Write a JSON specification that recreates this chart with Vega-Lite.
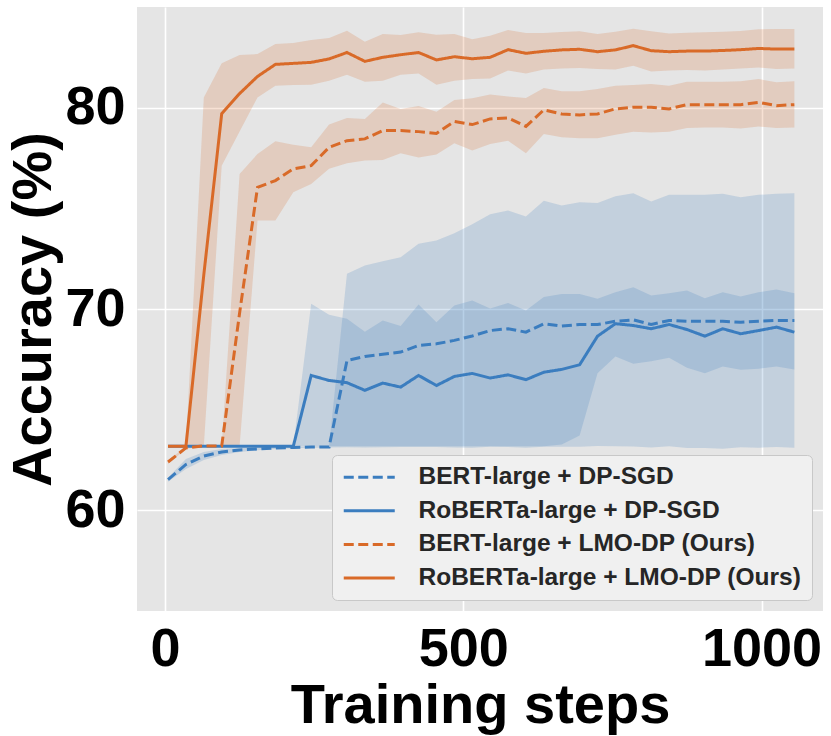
{
  "$schema": "https://vega.github.io/schema/vega-lite/v6.json",
  "autosize": "none",
  "padding": {"left": 137, "top": 7, "right": 8, "bottom": 125},
  "width": 686,
  "height": 604,
  "background": "white",
  "config": {
    "font": "Liberation Sans",
    "view": {"fill": "#e5e5e5", "stroke": null},
    "axis": {
      "domain": false, "ticks": false, "grid": true, "gridColor": "#ffffff", "gridWidth": 1.6,
      "labelFont": "Liberation Sans", "labelFontSize": 54, "labelFontWeight": "bold", "labelColor": "#000000",
      "titleFont": "Liberation Sans", "titleFontSize": 56, "titleFontWeight": "bold", "titleColor": "#000000"
    },
    "legend": {
      "symbolType": "M-2.55,0H2.55", "symbolSize": 400, "symbolStrokeWidth": 3, "symbolOffset": 15,
      "labelFont": "Liberation Sans", "labelFontSize": 24.5, "labelFontWeight": "bold", "labelColor": "#262626",
      "fillColor": "#f0f0f0", "strokeColor": "#c8c8c8", "cornerRadius": 5,
      "padding": 10, "rowPadding": 8.6, "labelOffset": 37, "labelLimit": 500
    }
  },
  "data": {"values": [
    {"step": 5, "series": "BERT-large + DP-SGD", "mean": 61.52, "lo": 61.42, "hi": 61.62},
    {"step": 35, "series": "BERT-large + DP-SGD", "mean": 62.28, "lo": 62.05, "hi": 62.55},
    {"step": 65, "series": "BERT-large + DP-SGD", "mean": 62.7, "lo": 62.5, "hi": 62.9},
    {"step": 95, "series": "BERT-large + DP-SGD", "mean": 62.9, "lo": 62.75, "hi": 63.05},
    {"step": 125, "series": "BERT-large + DP-SGD", "mean": 63.0, "lo": 62.9, "hi": 63.1},
    {"step": 155, "series": "BERT-large + DP-SGD", "mean": 63.05, "lo": 62.98, "hi": 63.12},
    {"step": 185, "series": "BERT-large + DP-SGD", "mean": 63.1, "lo": 63.05, "hi": 63.15},
    {"step": 215, "series": "BERT-large + DP-SGD", "mean": 63.12, "lo": 63.08, "hi": 63.16},
    {"step": 245, "series": "BERT-large + DP-SGD", "mean": 63.14, "lo": 63.11, "hi": 63.17},
    {"step": 275, "series": "BERT-large + DP-SGD", "mean": 63.15, "lo": 63.12, "hi": 63.18},
    {"step": 305, "series": "BERT-large + DP-SGD", "mean": 67.44, "lo": 63.13, "hi": 71.75},
    {"step": 335, "series": "BERT-large + DP-SGD", "mean": 67.64, "lo": 63.12, "hi": 72.16},
    {"step": 365, "series": "BERT-large + DP-SGD", "mean": 67.75, "lo": 63.13, "hi": 72.37},
    {"step": 395, "series": "BERT-large + DP-SGD", "mean": 67.86, "lo": 63.15, "hi": 72.57},
    {"step": 425, "series": "BERT-large + DP-SGD", "mean": 68.19, "lo": 63.14, "hi": 73.24},
    {"step": 455, "series": "BERT-large + DP-SGD", "mean": 68.27, "lo": 63.14, "hi": 73.4},
    {"step": 485, "series": "BERT-large + DP-SGD", "mean": 68.44, "lo": 63.12, "hi": 73.76},
    {"step": 515, "series": "BERT-large + DP-SGD", "mean": 68.66, "lo": 63.11, "hi": 74.21},
    {"step": 545, "series": "BERT-large + DP-SGD", "mean": 68.93, "lo": 63.16, "hi": 74.7},
    {"step": 575, "series": "BERT-large + DP-SGD", "mean": 69.02, "lo": 63.15, "hi": 74.89},
    {"step": 605, "series": "BERT-large + DP-SGD", "mean": 68.85, "lo": 63.11, "hi": 74.59},
    {"step": 635, "series": "BERT-large + DP-SGD", "mean": 69.27, "lo": 63.16, "hi": 75.38},
    {"step": 665, "series": "BERT-large + DP-SGD", "mean": 69.15, "lo": 63.16, "hi": 75.14},
    {"step": 695, "series": "BERT-large + DP-SGD", "mean": 69.23, "lo": 63.16, "hi": 75.3},
    {"step": 725, "series": "BERT-large + DP-SGD", "mean": 69.23, "lo": 63.19, "hi": 75.27},
    {"step": 755, "series": "BERT-large + DP-SGD", "mean": 69.39, "lo": 63.18, "hi": 75.6},
    {"step": 785, "series": "BERT-large + DP-SGD", "mean": 69.46, "lo": 63.17, "hi": 75.75},
    {"step": 815, "series": "BERT-large + DP-SGD", "mean": 69.23, "lo": 63.12, "hi": 75.34},
    {"step": 845, "series": "BERT-large + DP-SGD", "mean": 69.43, "lo": 63.18, "hi": 75.68},
    {"step": 875, "series": "BERT-large + DP-SGD", "mean": 69.39, "lo": 63.1, "hi": 75.68},
    {"step": 905, "series": "BERT-large + DP-SGD", "mean": 69.39, "lo": 63.1, "hi": 75.67},
    {"step": 935, "series": "BERT-large + DP-SGD", "mean": 69.39, "lo": 63.06, "hi": 75.72},
    {"step": 965, "series": "BERT-large + DP-SGD", "mean": 69.34, "lo": 63.13, "hi": 75.55},
    {"step": 995, "series": "BERT-large + DP-SGD", "mean": 69.39, "lo": 63.11, "hi": 75.67},
    {"step": 1025, "series": "BERT-large + DP-SGD", "mean": 69.43, "lo": 63.14, "hi": 75.72},
    {"step": 1055, "series": "BERT-large + DP-SGD", "mean": 69.43, "lo": 63.11, "hi": 75.75},

    {"step": 5, "series": "RoBERTa-large + DP-SGD", "mean": 63.18, "lo": 63.18, "hi": 63.18},
    {"step": 35, "series": "RoBERTa-large + DP-SGD", "mean": 63.18, "lo": 63.18, "hi": 63.18},
    {"step": 65, "series": "RoBERTa-large + DP-SGD", "mean": 63.18, "lo": 63.18, "hi": 63.18},
    {"step": 95, "series": "RoBERTa-large + DP-SGD", "mean": 63.18, "lo": 63.18, "hi": 63.18},
    {"step": 125, "series": "RoBERTa-large + DP-SGD", "mean": 63.18, "lo": 63.18, "hi": 63.18},
    {"step": 155, "series": "RoBERTa-large + DP-SGD", "mean": 63.18, "lo": 63.18, "hi": 63.18},
    {"step": 185, "series": "RoBERTa-large + DP-SGD", "mean": 63.18, "lo": 63.18, "hi": 63.18},
    {"step": 215, "series": "RoBERTa-large + DP-SGD", "mean": 63.18, "lo": 63.18, "hi": 63.18},
    {"step": 245, "series": "RoBERTa-large + DP-SGD", "mean": 66.7, "lo": 63.18, "hi": 70.26},
    {"step": 275, "series": "RoBERTa-large + DP-SGD", "mean": 66.45, "lo": 63.18, "hi": 69.72},
    {"step": 305, "series": "RoBERTa-large + DP-SGD", "mean": 66.34, "lo": 63.18, "hi": 69.51},
    {"step": 335, "series": "RoBERTa-large + DP-SGD", "mean": 65.96, "lo": 63.18, "hi": 68.87},
    {"step": 365, "series": "RoBERTa-large + DP-SGD", "mean": 66.32, "lo": 63.18, "hi": 69.43},
    {"step": 395, "series": "RoBERTa-large + DP-SGD", "mean": 66.12, "lo": 63.18, "hi": 69.15},
    {"step": 425, "series": "RoBERTa-large + DP-SGD", "mean": 66.7, "lo": 63.18, "hi": 70.22},
    {"step": 455, "series": "RoBERTa-large + DP-SGD", "mean": 66.2, "lo": 63.18, "hi": 69.34},
    {"step": 485, "series": "RoBERTa-large + DP-SGD", "mean": 66.65, "lo": 63.18, "hi": 70.17},
    {"step": 515, "series": "RoBERTa-large + DP-SGD", "mean": 66.8, "lo": 63.18, "hi": 70.42},
    {"step": 545, "series": "RoBERTa-large + DP-SGD", "mean": 66.57, "lo": 63.18, "hi": 70.02},
    {"step": 575, "series": "RoBERTa-large + DP-SGD", "mean": 66.73, "lo": 63.18, "hi": 70.3},
    {"step": 605, "series": "RoBERTa-large + DP-SGD", "mean": 66.49, "lo": 63.18, "hi": 69.93},
    {"step": 635, "series": "RoBERTa-large + DP-SGD", "mean": 66.86, "lo": 63.18, "hi": 70.59},
    {"step": 665, "series": "RoBERTa-large + DP-SGD", "mean": 67.0, "lo": 63.27, "hi": 70.75},
    {"step": 695, "series": "RoBERTa-large + DP-SGD", "mean": 67.23, "lo": 63.72, "hi": 70.75},
    {"step": 725, "series": "RoBERTa-large + DP-SGD", "mean": 68.65, "lo": 66.81, "hi": 70.51},
    {"step": 755, "series": "RoBERTa-large + DP-SGD", "mean": 69.27, "lo": 67.64, "hi": 70.83},
    {"step": 785, "series": "RoBERTa-large + DP-SGD", "mean": 69.18, "lo": 67.28, "hi": 71.08},
    {"step": 815, "series": "RoBERTa-large + DP-SGD", "mean": 69.02, "lo": 67.41, "hi": 70.67},
    {"step": 845, "series": "RoBERTa-large + DP-SGD", "mean": 69.23, "lo": 67.58, "hi": 70.78},
    {"step": 875, "series": "RoBERTa-large + DP-SGD", "mean": 68.98, "lo": 67.08, "hi": 70.92},
    {"step": 905, "series": "RoBERTa-large + DP-SGD", "mean": 68.65, "lo": 66.81, "hi": 70.54},
    {"step": 935, "series": "RoBERTa-large + DP-SGD", "mean": 69.02, "lo": 67.15, "hi": 70.83},
    {"step": 965, "series": "RoBERTa-large + DP-SGD", "mean": 68.77, "lo": 66.98, "hi": 70.62},
    {"step": 995, "series": "RoBERTa-large + DP-SGD", "mean": 68.93, "lo": 67.03, "hi": 70.83},
    {"step": 1025, "series": "RoBERTa-large + DP-SGD", "mean": 69.1, "lo": 67.15, "hi": 70.97},
    {"step": 1055, "series": "RoBERTa-large + DP-SGD", "mean": 68.85, "lo": 67.0, "hi": 70.78},

    {"step": 5, "series": "BERT-large + LMO-DP (Ours)", "mean": 62.4, "lo": 62.3, "hi": 62.5},
    {"step": 35, "series": "BERT-large + LMO-DP (Ours)", "mean": 63.1, "lo": 63.05, "hi": 63.15},
    {"step": 65, "series": "BERT-large + LMO-DP (Ours)", "mean": 63.2, "lo": 63.2, "hi": 63.2},
    {"step": 95, "series": "BERT-large + LMO-DP (Ours)", "mean": 63.2, "lo": 63.2, "hi": 63.2},
    {"step": 125, "series": "BERT-large + LMO-DP (Ours)", "mean": 69.8, "lo": 63.2, "hi": 76.71},
    {"step": 155, "series": "BERT-large + LMO-DP (Ours)", "mean": 76.04, "lo": 74.39, "hi": 77.7},
    {"step": 185, "series": "BERT-large + LMO-DP (Ours)", "mean": 76.38, "lo": 74.39, "hi": 78.33},
    {"step": 215, "series": "BERT-large + LMO-DP (Ours)", "mean": 76.96, "lo": 75.8, "hi": 78.16},
    {"step": 245, "series": "BERT-large + LMO-DP (Ours)", "mean": 77.12, "lo": 76.21, "hi": 78.03},
    {"step": 275, "series": "BERT-large + LMO-DP (Ours)", "mean": 78.03, "lo": 76.96, "hi": 79.16},
    {"step": 305, "series": "BERT-large + LMO-DP (Ours)", "mean": 78.36, "lo": 77.24, "hi": 79.49},
    {"step": 335, "series": "BERT-large + LMO-DP (Ours)", "mean": 78.45, "lo": 77.37, "hi": 79.44},
    {"step": 365, "series": "BERT-large + LMO-DP (Ours)", "mean": 78.86, "lo": 77.4, "hi": 80.26},
    {"step": 395, "series": "BERT-large + LMO-DP (Ours)", "mean": 78.86, "lo": 77.73, "hi": 79.93},
    {"step": 425, "series": "BERT-large + LMO-DP (Ours)", "mean": 78.81, "lo": 77.53, "hi": 80.08},
    {"step": 455, "series": "BERT-large + LMO-DP (Ours)", "mean": 78.72, "lo": 77.67, "hi": 79.8},
    {"step": 485, "series": "BERT-large + LMO-DP (Ours)", "mean": 79.32, "lo": 78.23, "hi": 80.38},
    {"step": 515, "series": "BERT-large + LMO-DP (Ours)", "mean": 79.16, "lo": 77.87, "hi": 80.47},
    {"step": 545, "series": "BERT-large + LMO-DP (Ours)", "mean": 79.44, "lo": 78.2, "hi": 80.65},
    {"step": 575, "series": "BERT-large + LMO-DP (Ours)", "mean": 79.49, "lo": 78.36, "hi": 80.56},
    {"step": 605, "series": "BERT-large + LMO-DP (Ours)", "mean": 79.07, "lo": 77.73, "hi": 80.48},
    {"step": 635, "series": "BERT-large + LMO-DP (Ours)", "mean": 79.89, "lo": 78.69, "hi": 80.98},
    {"step": 665, "series": "BERT-large + LMO-DP (Ours)", "mean": 79.69, "lo": 78.53, "hi": 80.81},
    {"step": 695, "series": "BERT-large + LMO-DP (Ours)", "mean": 79.64, "lo": 78.48, "hi": 80.81},
    {"step": 725, "series": "BERT-large + LMO-DP (Ours)", "mean": 79.69, "lo": 78.48, "hi": 80.93},
    {"step": 755, "series": "BERT-large + LMO-DP (Ours)", "mean": 79.94, "lo": 78.65, "hi": 81.09},
    {"step": 785, "series": "BERT-large + LMO-DP (Ours)", "mean": 80.02, "lo": 78.81, "hi": 81.13},
    {"step": 815, "series": "BERT-large + LMO-DP (Ours)", "mean": 80.02, "lo": 78.77, "hi": 81.18},
    {"step": 845, "series": "BERT-large + LMO-DP (Ours)", "mean": 79.94, "lo": 78.81, "hi": 81.09},
    {"step": 875, "series": "BERT-large + LMO-DP (Ours)", "mean": 80.15, "lo": 78.99, "hi": 81.29},
    {"step": 905, "series": "BERT-large + LMO-DP (Ours)", "mean": 80.15, "lo": 79.02, "hi": 81.29},
    {"step": 935, "series": "BERT-large + LMO-DP (Ours)", "mean": 80.15, "lo": 79.02, "hi": 81.29},
    {"step": 965, "series": "BERT-large + LMO-DP (Ours)", "mean": 80.15, "lo": 78.97, "hi": 81.31},
    {"step": 995, "series": "BERT-large + LMO-DP (Ours)", "mean": 80.26, "lo": 79.06, "hi": 81.42},
    {"step": 1025, "series": "BERT-large + LMO-DP (Ours)", "mean": 80.1, "lo": 78.99, "hi": 81.26},
    {"step": 1055, "series": "BERT-large + LMO-DP (Ours)", "mean": 80.15, "lo": 79.02, "hi": 81.31},

    {"step": 5, "series": "RoBERTa-large + LMO-DP (Ours)", "mean": 63.18, "lo": 63.18, "hi": 63.18},
    {"step": 35, "series": "RoBERTa-large + LMO-DP (Ours)", "mean": 63.18, "lo": 63.18, "hi": 63.18},
    {"step": 65, "series": "RoBERTa-large + LMO-DP (Ours)", "mean": 71.7, "lo": 63.18, "hi": 80.5},
    {"step": 95, "series": "RoBERTa-large + LMO-DP (Ours)", "mean": 79.7, "lo": 77.12, "hi": 82.2},
    {"step": 125, "series": "RoBERTa-large + LMO-DP (Ours)", "mean": 80.7, "lo": 78.82, "hi": 82.61},
    {"step": 155, "series": "RoBERTa-large + LMO-DP (Ours)", "mean": 81.55, "lo": 80.51, "hi": 82.66},
    {"step": 185, "series": "RoBERTa-large + LMO-DP (Ours)", "mean": 82.15, "lo": 81.09, "hi": 83.16},
    {"step": 215, "series": "RoBERTa-large + LMO-DP (Ours)", "mean": 82.2, "lo": 81.13, "hi": 83.21},
    {"step": 245, "series": "RoBERTa-large + LMO-DP (Ours)", "mean": 82.25, "lo": 81.14, "hi": 83.36},
    {"step": 275, "series": "RoBERTa-large + LMO-DP (Ours)", "mean": 82.42, "lo": 81.34, "hi": 83.46},
    {"step": 305, "series": "RoBERTa-large + LMO-DP (Ours)", "mean": 82.74, "lo": 81.64, "hi": 83.82},
    {"step": 335, "series": "RoBERTa-large + LMO-DP (Ours)", "mean": 82.3, "lo": 81.29, "hi": 83.28},
    {"step": 365, "series": "RoBERTa-large + LMO-DP (Ours)", "mean": 82.5, "lo": 81.34, "hi": 83.66},
    {"step": 395, "series": "RoBERTa-large + LMO-DP (Ours)", "mean": 82.63, "lo": 81.64, "hi": 83.61},
    {"step": 425, "series": "RoBERTa-large + LMO-DP (Ours)", "mean": 82.74, "lo": 81.7, "hi": 83.74},
    {"step": 455, "series": "RoBERTa-large + LMO-DP (Ours)", "mean": 82.37, "lo": 81.14, "hi": 83.62},
    {"step": 485, "series": "RoBERTa-large + LMO-DP (Ours)", "mean": 82.53, "lo": 81.34, "hi": 83.66},
    {"step": 515, "series": "RoBERTa-large + LMO-DP (Ours)", "mean": 82.43, "lo": 81.43, "hi": 83.4},
    {"step": 545, "series": "RoBERTa-large + LMO-DP (Ours)", "mean": 82.5, "lo": 81.45, "hi": 83.57},
    {"step": 575, "series": "RoBERTa-large + LMO-DP (Ours)", "mean": 82.88, "lo": 81.84, "hi": 83.86},
    {"step": 605, "series": "RoBERTa-large + LMO-DP (Ours)", "mean": 82.7, "lo": 81.7, "hi": 83.71},
    {"step": 635, "series": "RoBERTa-large + LMO-DP (Ours)", "mean": 82.8, "lo": 81.89, "hi": 83.71},
    {"step": 665, "series": "RoBERTa-large + LMO-DP (Ours)", "mean": 82.87, "lo": 81.95, "hi": 83.76},
    {"step": 695, "series": "RoBERTa-large + LMO-DP (Ours)", "mean": 82.9, "lo": 81.97, "hi": 83.79},
    {"step": 725, "series": "RoBERTa-large + LMO-DP (Ours)", "mean": 82.78, "lo": 81.92, "hi": 83.66},
    {"step": 755, "series": "RoBERTa-large + LMO-DP (Ours)", "mean": 82.87, "lo": 81.9, "hi": 83.77},
    {"step": 785, "series": "RoBERTa-large + LMO-DP (Ours)", "mean": 83.08, "lo": 82.08, "hi": 83.92},
    {"step": 815, "series": "RoBERTa-large + LMO-DP (Ours)", "mean": 82.83, "lo": 81.8, "hi": 83.79},
    {"step": 845, "series": "RoBERTa-large + LMO-DP (Ours)", "mean": 82.78, "lo": 81.85, "hi": 83.69},
    {"step": 875, "series": "RoBERTa-large + LMO-DP (Ours)", "mean": 82.81, "lo": 81.87, "hi": 83.72},
    {"step": 905, "series": "RoBERTa-large + LMO-DP (Ours)", "mean": 82.81, "lo": 81.85, "hi": 83.74},
    {"step": 935, "series": "RoBERTa-large + LMO-DP (Ours)", "mean": 82.84, "lo": 81.89, "hi": 83.77},
    {"step": 965, "series": "RoBERTa-large + LMO-DP (Ours)", "mean": 82.88, "lo": 81.94, "hi": 83.81},
    {"step": 995, "series": "RoBERTa-large + LMO-DP (Ours)", "mean": 82.94, "lo": 81.99, "hi": 83.89},
    {"step": 1025, "series": "RoBERTa-large + LMO-DP (Ours)", "mean": 82.91, "lo": 81.92, "hi": 83.91},
    {"step": 1055, "series": "RoBERTa-large + LMO-DP (Ours)", "mean": 82.91, "lo": 81.95, "hi": 83.91}
  ]},
  "layer": [
    {
      "mark": {"type": "area", "fillOpacity": 0.2, "strokeWidth": 0},
      "encoding": {
        "x": {"field": "step", "type": "quantitative",
          "scale": {"domain": [-47, 1103], "nice": false, "zero": false},
          "axis": {"values": [0, 500, 1000], "format": "d", "title": "Training steps", "labelPadding": 11, "titlePadding": 2}},
        "y": {"field": "lo", "type": "quantitative",
          "scale": {"domain": [55, 85], "nice": false, "zero": false},
          "axis": {"values": [60, 70, 80], "title": "Accuracy (%)", "labelPadding": 12, "titlePadding": 2}},
        "y2": {"field": "hi"},
        "fill": {"field": "series", "type": "nominal", "legend": null,
          "scale": {"domain": ["RoBERTa-large + LMO-DP (Ours)", "BERT-large + LMO-DP (Ours)", "RoBERTa-large + DP-SGD", "BERT-large + DP-SGD"],
                    "range": ["#d96a28", "#d96a28", "#3b7dbf", "#3b7dbf"]}}
      }
    },
    {
      "mark": {"type": "line", "strokeWidth": 3},
      "encoding": {
        "x": {"field": "step", "type": "quantitative"},
        "y": {"field": "mean", "type": "quantitative"},
        "color": {"field": "series", "type": "nominal", "title": null,
          "scale": {"domain": ["BERT-large + DP-SGD", "RoBERTa-large + DP-SGD", "BERT-large + LMO-DP (Ours)", "RoBERTa-large + LMO-DP (Ours)"],
                    "range": ["#3b7dbf", "#3b7dbf", "#d96a28", "#d96a28"]},
          "legend": {"orient": "bottom-right", "offset": 11}},
        "strokeDash": {"field": "series", "type": "nominal", "title": null,
          "scale": {"domain": ["BERT-large + DP-SGD", "RoBERTa-large + DP-SGD", "BERT-large + LMO-DP (Ours)", "RoBERTa-large + LMO-DP (Ours)"],
                    "range": [[10, 4.5], [1, 0], [10, 4.5], [1, 0]]},
          "legend": {"orient": "bottom-right", "offset": 11}}
      }
    }
  ]
}
